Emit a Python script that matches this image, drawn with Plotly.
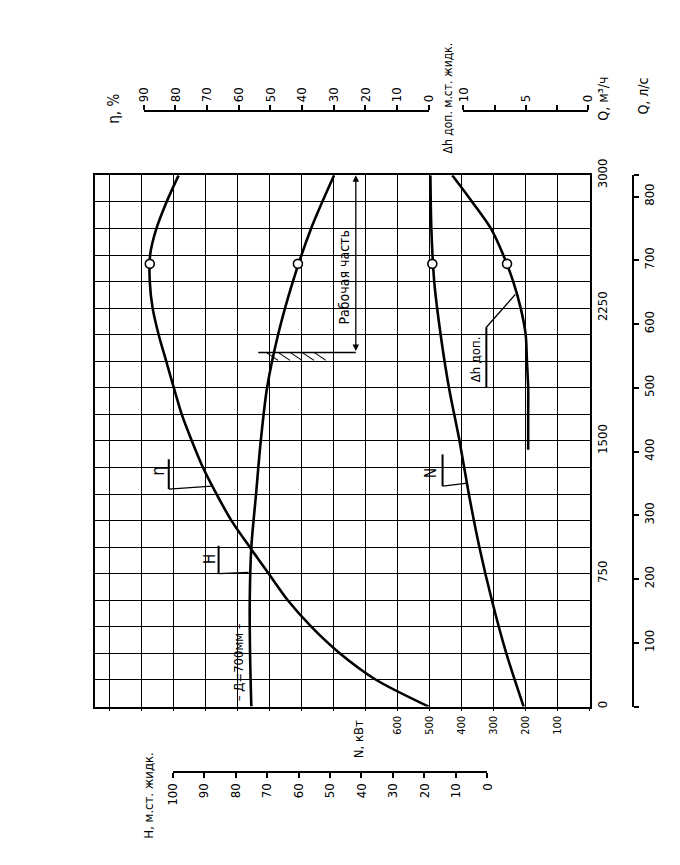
import plotly.graph_objects as go

# ---------------- data ----------------
# flow Q, m3/h (vertical axis of the rotated sheet)
q_eta = [0, 150, 300, 450, 600, 750, 900, 1050, 1200, 1350, 1500, 1650, 1800,
         1950, 2100, 2250, 2400, 2550, 2700, 2850, 3000]
eta = [0, 16.5, 28, 37, 44.5, 50.5, 56.5, 62.3, 67, 71.3, 74.8, 78, 80.5,
       82.9, 85.3, 87.2, 88.1, 88, 86, 82.8, 79]

q_head = [0, 300, 600, 900, 1200, 1500, 1800, 2100, 2400, 2700, 3000]
head = [75, 75.4, 75.5, 75, 73.5, 72, 70, 66.5, 61.8, 56, 48.7]

q_power = [0, 300, 600, 900, 1200, 1500, 1800, 2100, 2400, 2700, 3000]
power = [207, 261, 306, 345, 378, 407, 440, 466, 486, 495, 498]

q_npsh = [1450, 1650, 1800, 1950, 2100, 2250, 2400, 2550, 2700, 2850, 3000]
npsh = [4.8, 4.8, 4.8, 4.9, 5.0, 5.4, 6.0, 6.8, 7.8, 9.3, 10.9]

q_opt = [2500]
eta_opt = [88.1]
head_opt = [60.2]
power_opt = [492]
npsh_opt = [6.5]

# ticks
q_ticks = list(range(0, 3001, 150))
q_labels = [str(v) if v % 750 == 0 else "" for v in q_ticks]
n_ticks = list(range(0, 1501, 100))
n_labels = [str(v) if 100 <= v <= 600 else "" for v in n_ticks]
h_ticks = list(range(0, 101, 10))
eta_ticks = list(range(0, 91, 10))
npsh_ticks = [0, 2.5, 5, 7.5, 10]
npsh_labels = ["0", "", "5", "", "10"]
ls_ticks = list(range(0, 801, 100))
ls_labels = [str(v) if v > 0 else "" for v in ls_ticks]

# ---------------- geometry (target pixel positions) ----------------
W, H = 680, 865
X0, X1, YT, YB = 93, 590, 172, 707
# compensation for how the page is photographed (measured)
SX, OX, SY, OY = 0.982, 13.7, 0.985, 20.6


def px(x):
    return ((x - OX) / SX) / W


def py(y):
    return 1 - ((y - OY) / SY) / H


def edge_range(pa, va, pb, vb):
    k = (vb - va) / (pb - pa)
    return [va + (X0 - pa) * k, va + (X1 - pa) * k]


FONT = "DejaVu Sans Condensed, Liberation Sans Narrow, DejaVu Sans, sans-serif"
INK = "black"
tickfont = dict(family=FONT, size=13, color=INK)

fig = go.Figure()
curve = dict(color=INK, width=2.6, shape="spline", smoothing=0.8)
mk = dict(symbol="circle", size=9, color="white", line=dict(color=INK, width=1.6))

for xs, ys, xa in [(eta, q_eta, "x3"), (head, q_head, "x2"),
                   (power, q_power, "x"), (npsh, q_npsh, "x4")]:
    fig.add_trace(go.Scatter(x=xs, y=ys, xaxis=xa, yaxis="y", mode="lines",
                             line=curve, hoverinfo="skip", showlegend=False))
for xs, xa in [(eta_opt, "x3"), (head_opt, "x2"), (power_opt, "x"), (npsh_opt, "x4")]:
    fig.add_trace(go.Scatter(x=xs, y=q_opt, xaxis=xa, yaxis="y", mode="markers",
                             marker=mk, hoverinfo="skip", showlegend=False))

# invisible helper traces so that the scale bars get drawn
ghost = dict(mode="markers", marker=dict(opacity=0), hoverinfo="skip", showlegend=False)
fig.add_trace(go.Scatter(x=h_ticks, y=[0] * len(h_ticks), xaxis="x5", yaxis="y", **ghost))
fig.add_trace(go.Scatter(x=eta_ticks, y=[0] * len(eta_ticks), xaxis="x6", yaxis="y", **ghost))
fig.add_trace(go.Scatter(x=npsh_ticks, y=[0] * len(npsh_ticks), xaxis="x7", yaxis="y", **ghost))
fig.add_trace(go.Scatter(x=[0] * len(ls_ticks), y=ls_ticks, xaxis="x", yaxis="y2", **ghost))

bar = dict(showline=True, linecolor=INK, linewidth=2, ticks="outside", ticklen=5,
           tickwidth=1.5, tickcolor=INK, showgrid=False, zeroline=False,
           tickangle=-90, tickfont=tickfont, anchor="free")

fig.update_layout(
    width=W, height=H, margin=dict(l=0, r=0, t=0, b=0),
    paper_bgcolor="white", plot_bgcolor="rgba(0,0,0,0)",
    font=dict(family=FONT, color=INK),
    xaxis=dict(domain=[px(X0), px(X1)], range=edge_range(590, 0, 397, 600),
               tickvals=n_ticks, ticktext=n_labels, tickangle=-90, ticks="outside",
               ticklen=3, tickcolor=INK, showgrid=True, gridcolor=INK, gridwidth=1.1,
               showline=True, linecolor=INK, linewidth=1.8, mirror=True,
               zeroline=False, anchor="y", tickfont=dict(family=FONT, size=11, color=INK)),
    yaxis=dict(domain=[py(YB), py(YT)], range=[0, 3000], side="right",
               tickvals=q_ticks, ticktext=q_labels, tickangle=-90, ticks="",
               showgrid=True, gridcolor=INK, gridwidth=1.1, showline=True,
               linecolor=INK, linewidth=1.8, mirror=True, zeroline=False,
               anchor="x", tickfont=tickfont),
    xaxis2=dict(overlaying="x", anchor="y", range=edge_range(487, 0, 171, 100), visible=False),
    xaxis3=dict(overlaying="x", anchor="y", range=edge_range(428, 0, 142, 90), visible=False),
    xaxis4=dict(overlaying="x", anchor="y", range=edge_range(588, 0, 463, 10), visible=False),
    xaxis5=dict(domain=[px(171), px(487)], range=[100, 0], position=py(773), side="bottom",
                tickvals=h_ticks, **bar),
    xaxis6=dict(domain=[px(142), px(428)], range=[90, 0], position=py(107), side="top",
                tickvals=eta_ticks, **bar),
    xaxis7=dict(domain=[px(463), px(588)], range=[10, 0], position=py(107), side="top",
                tickvals=npsh_ticks, ticktext=npsh_labels, **bar),
    yaxis2=dict(overlaying="y", position=px(633), side="right", range=[0, 3000 / 3.6],
                tickvals=ls_ticks + [3000 / 3.6], ticktext=ls_labels + [""], **bar),
)


def note(text, x, y, xref="paper", yref="paper", size=13):
    fig.add_annotation(text=text, x=x, y=y, xref=xref, yref=yref, showarrow=False,
                       xanchor="center", yanchor="middle",
                       textangle=-90, font=dict(family=FONT, size=size, color=INK))


# axis titles
note("H, м.ст. жидк.", px(147), py(797), size=13)
note("N, кВт", px(357), py(740), size=13)
note("η, %", px(112), py(105), size=15)
note("Δh доп. м.ст. жидк.", px(447), py(95), size=12)
note("Q, м³/ч", px(603), py(95), size=14)
note("Q, л/с", px(643), py(92), size=14)

# curve labels
note("η", 85.3, 1329, "x3", "y", 17)
note("H", 88.3, 836, "x2", "y", 15)
note("N", 497, 1318, "x", "y", 15)
note("Δh доп.", 8.96, 1963, "x4", "y", 13)
note("– Д=700мм –", 79.1, 252, "x2", "y", 13)
note("Рабочая часть", 45.6, 2422, "x2", "y", 14)

# working range arrow
fig.add_annotation(text="", x=41.8, y=3000, ax=41.8, ay=2000, xref="x2", yref="y",
                   axref="x2", ayref="y", showarrow=True, arrowhead=2, arrowsize=1,
                   arrowwidth=1.3, arrowcolor=INK, arrowside="end+start")


def seg(xa, x0, y0, x1, y1, w=1.3):
    fig.add_shape(type="line", xref=xa, yref="y", x0=x0, y0=y0, x1=x1, y1=y1,
                  line=dict(color=INK, width=w))


# leader lines
seg("x3", 82.1, 1228, 82.1, 1396, 2)
seg("x3", 82.1, 1228, 68.5, 1245)
seg("x2", 85.4, 751, 85.4, 908, 2)
seg("x2", 85.4, 751, 75.9, 757)
seg("x", 460, 1245, 460, 1424, 2)
seg("x", 460, 1245, 382, 1262)
seg("x4", 8.16, 1800, 8.16, 2142, 2)
seg("x4", 8.16, 2142, 5.84, 2327)
# working range boundary with hatching
seg("x2", 72.8, 2000, 41.8, 2000, 1.5)
for i in range(5):
    h0 = 70.3 - i * 3.8
    seg("x2", h0, 2000, h0 - 3.8, 1955, 1.1)

fig.write_html("out.html")
